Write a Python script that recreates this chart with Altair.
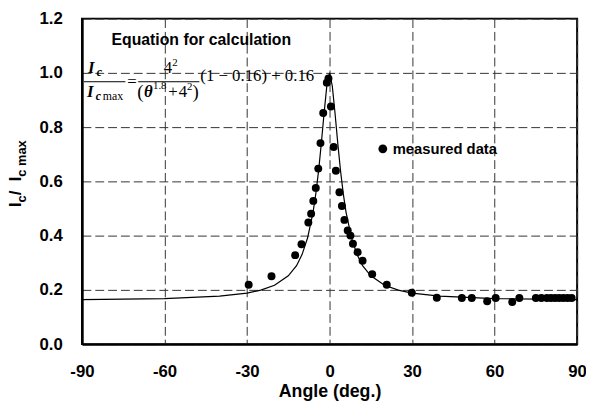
import altair as alt
import pandas as pd

meas_angle = [-29.4, -21.1, -12.5, -10.2, -7.7, -6.7, -5.9, -5.0, -4.1, -3.3,
              -2.3, -1.0, -0.4, 0.5, 1.5, 2.3, 3.6, 4.5, 5.4, 6.6,
              7.6, 8.5, 10.2, 12.0, 15.5, 20.8, 29.9, 39.0, 48.1, 51.7,
              57.3, 60.4, 66.4, 69.0, 75.0, 77.0, 79.0, 80.5, 82.0, 83.5,
              85.0, 86.5, 88.0]
meas_ratio = [0.219, 0.250, 0.328, 0.368, 0.448, 0.481, 0.528, 0.576, 0.647, 0.741,
              0.852, 0.964, 0.979, 0.876, 0.727, 0.639, 0.560, 0.509, 0.458, 0.419,
              0.400, 0.370, 0.339, 0.307, 0.258, 0.219, 0.189, 0.171, 0.170, 0.170,
              0.158, 0.170, 0.155, 0.170, 0.170, 0.170, 0.170, 0.170, 0.170, 0.170,
              0.170, 0.170, 0.170]

# ---- calculated curve ----
curve_angle = [-90, -75, -60, -50, -40, -30, -25, -20, -15, -12, -10, -8, -6, -5, -4, -3, -2, -1, 0,
               1, 2, 3, 4, 5, 6, 8, 10, 12, 15, 20, 25, 30, 40, 50, 60, 75, 90]
curve_ratio = [0.164, 0.166, 0.168, 0.172, 0.177, 0.188, 0.199, 0.217, 0.252, 0.289, 0.330, 0.391,
               0.486, 0.554, 0.638, 0.739, 0.850, 0.951, 1.000,
               0.951, 0.850, 0.739, 0.638, 0.554, 0.486, 0.391, 0.330, 0.289, 0.252, 0.217,
               0.199, 0.188, 0.177, 0.172, 0.168, 0.166, 0.164]

x_ticks = [-90, -60, -30, 0, 30, 60, 90]
y_ticks = [0.0, 0.2, 0.4, 0.6, 0.8, 1.0, 1.2]

meas = pd.DataFrame({"angle": meas_angle, "ratio": meas_ratio})
curve = pd.DataFrame({"angle": curve_angle, "ratio": curve_ratio})
one = pd.DataFrame({"k": [0]})

X0, Y0 = 83, 16  # page position of plot origin
W, H = 502, 330

xs = alt.Scale(domain=[-90, 90], nice=False)
ys = alt.Scale(domain=[0, 1.2], nice=False)

x_axis = alt.Axis(values=x_ticks, title="Angle (deg.)", labelExpr="'' + datum.value",
                  labelFont="Liberation Sans", labelFontWeight="bold", labelFontSize=17,
                  labelColor="black", labelPadding=20, labelFlush=False,
                  titleFont="Liberation Sans", titleFontWeight="bold", titleFontSize=18,
                  titleColor="black", titlePadding=3,
                  ticks=False, domainColor="black", domainWidth=2.5,
                  grid=True, gridDash=[9, 4], gridColor="#333333", gridWidth=1, gridOpacity=1)
y_axis = alt.Axis(values=y_ticks, title=None, format=".1f",
                  labelFont="Liberation Sans", labelFontWeight="bold", labelFontSize=17,
                  labelColor="black", labelPadding=20, labelFlush=False,
                  ticks=False, domainColor="black", domainWidth=2.5,
                  grid=True, gridDash=[9, 4], gridColor="#333333", gridWidth=1, gridOpacity=1)

line = alt.Chart(curve).mark_line(color="black", strokeWidth=1.2).encode(
    x=alt.X("angle:Q", scale=xs, axis=x_axis),
    y=alt.Y("ratio:Q", scale=ys, axis=y_axis),
    order="angle:Q",
)
pts = alt.Chart(meas).mark_point(filled=True, color="black", opacity=1, size=65).encode(
    x=alt.X("angle:Q", scale=xs),
    y=alt.Y("ratio:Q", scale=ys),
)


def txt(s, px, py, size, font="Liberation Serif", weight="normal", style="normal",
        align="left", baseline="alphabetic", angle=0):
    return alt.Chart(one).mark_text(
        text=s, font=font, fontSize=size, fontWeight=weight, fontStyle=style,
        align=align, baseline=baseline, angle=angle, color="black"
    ).encode(x=alt.value(px - X0), y=alt.value(py - Y0))


def bar(px1, px2, py):
    return alt.Chart(one).mark_rule(color="black", strokeWidth=1).encode(
        x=alt.value(px1 - X0), x2=alt.value(px2 - X0), y=alt.value(py - Y0))


layers = [line, pts]

# equation block
layers += [
    txt("Equation for calculation", 113, 43, 16, "Liberation Sans", "bold"),
    txt("I", 89, 71, 17, weight="bold", style="italic"),
    txt("c", 98, 74, 12, weight="bold", style="italic"),
    bar(85, 127, 80),
    txt("I", 88, 95, 17, weight="bold", style="italic"),
    txt("c", 97, 98, 12, weight="bold", style="italic"),
    txt("max", 104, 98, 12),
    txt("=", 129, 85, 17),
    txt("4", 166, 71, 17),
    txt("2", 174.5, 64, 11),
    bar(140, 202, 80),
    txt("(", 139, 96, 19),
    txt("θ", 146, 95, 17, weight="bold", style="italic"),
    txt("1.8", 155, 87, 11),
    txt("+", 170.5, 95, 17),
    txt("4", 181, 95, 17),
    txt("2", 189.5, 88, 11),
    txt(")", 195, 96, 19),
    txt("(1 − 0.16) + 0.16", 203, 79, 17),
]

# legend
layers += [
    alt.Chart(one).mark_point(filled=True, color="black", opacity=1, size=80).encode(
        x=alt.value(388 - X0), y=alt.value(148 - Y0)),
    txt("measured data", 398, 148, 15, "Liberation Sans", "bold", baseline="middle"),
]

# y title  I_c / I_c max (rotated)
layers += [
    txt("I", 21, 207, 17, "Liberation Sans", "bold", angle=270),
    txt("c", 26, 202.3, 13, "Liberation Sans", "bold", angle=270),
    txt(" / ", 21, 195.1, 17, "Liberation Sans", "bold", angle=270),
    txt("I", 21, 180.9, 17, "Liberation Sans", "bold", angle=270),
    txt("c max", 26, 176.2, 13, "Liberation Sans", "bold", angle=270),
]

chart = alt.layer(*layers).properties(
    width=W, height=H,
    autosize=alt.AutoSizeParams(type="none"),
    padding={"left": 75, "top": 8, "right": 9, "bottom": 62},
    background="white",
).configure_view(stroke="black", strokeWidth=2)

chart.save("out.html", embed_options={"renderer": "svg", "actions": False})
